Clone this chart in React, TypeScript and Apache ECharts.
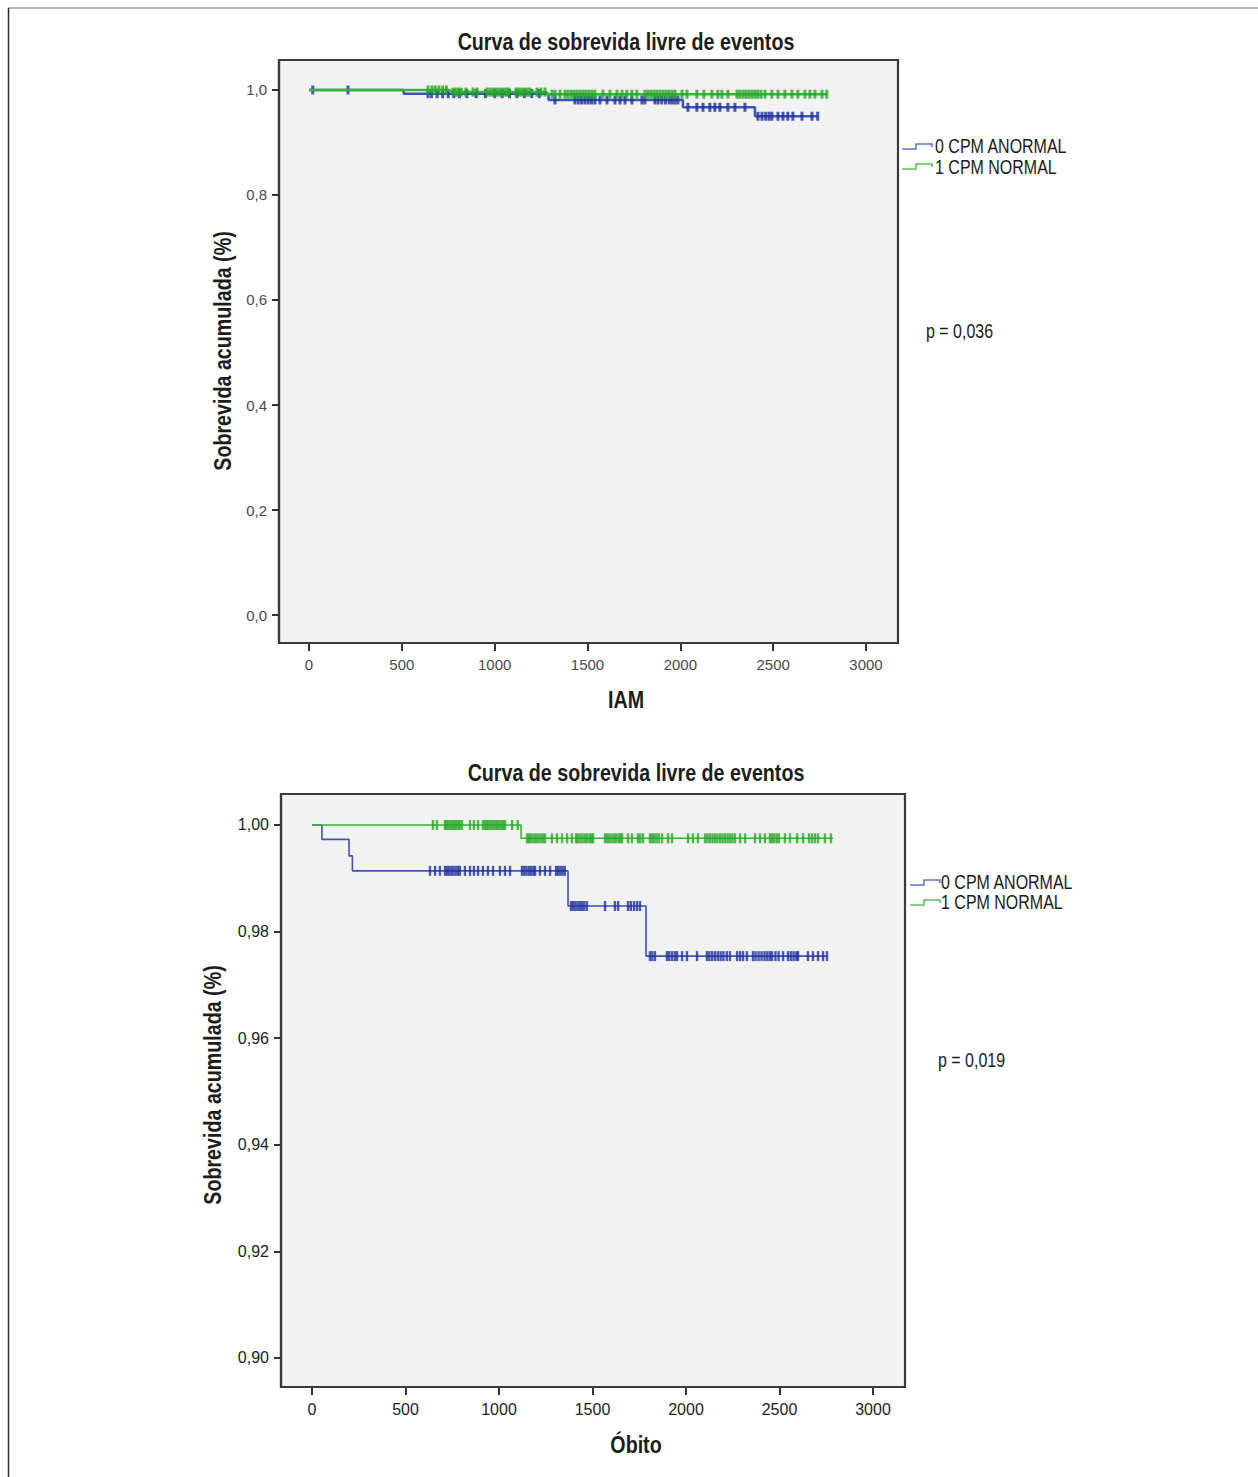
import React, { useEffect, useRef } from "react";
import * as echarts from "echarts";

// ---------------- Data: IAM (top chart) ----------------
const xTickValues = [0, 500, 1000, 1500, 2000, 2500, 3000];
const iamYTicks = [0, 0.2, 0.4, 0.6, 0.8, 1.0];
const obitoYTicks = [0.9, 0.92, 0.94, 0.96, 0.98, 1.0];

const iamAnormalSteps: [number, number][] = [[0, 1], [510, 0.993], [1290, 0.981], [2014, 0.967], [2402, 0.95], [2740, 0.95]];
const iamNormalSteps: [number, number][] = [[0, 1], [760, 0.996], [1280, 0.992], [2790, 0.992]];
const iamAnormalCensored = [20, 210, 641, 660, 690, 720, 750, 780, 810, 850, 900, 950, 1000, 1040, 1080, 1120, 1160, 1200, 1240,
  1325, 1432, 1450, 1468, 1486, 1504, 1522, 1540, 1567, 1605, 1648, 1675, 1702, 1739, 1793, 1809, 1863, 1880, 1900, 1920, 1940, 1955, 1971, 1987,
  2041, 2089, 2122, 2159, 2186, 2213, 2256, 2294, 2348,
  2418, 2440, 2460, 2478, 2493, 2526, 2553, 2579, 2606, 2655, 2709, 2740];
const iamNormalCensored = [641, 662, 680, 700, 720, 740, 775, 790, 805, 820, 845, 883, 905, 959, 975, 990, 1005, 1020, 1035, 1050, 1065, 1077,
  1115, 1130, 1145, 1160, 1175, 1190, 1228, 1249, 1271, 1309, 1325, 1352, 1379, 1395, 1412, 1428, 1444, 1460, 1476, 1492, 1508, 1524, 1540,
  1583, 1621, 1659, 1686, 1712, 1739, 1766, 1809, 1825, 1841, 1857, 1873, 1890, 1906, 1922, 1938, 1955, 1971, 2009, 2036, 2089, 2127, 2170,
  2202, 2224, 2256, 2305, 2320, 2337, 2353, 2369, 2385, 2401, 2417, 2434, 2456, 2493, 2526, 2563, 2601, 2633, 2671, 2698, 2725, 2763, 2789];

// ---------------- Data: Óbito (bottom chart) ----------------
const obitoAnormalSteps: [number, number][] = [[0, 1], [53, 0.9973], [198, 0.9942], [216, 0.9914], [1369, 0.9848], [1786, 0.9754], [2754, 0.9754]];
const obitoNormalSteps: [number, number][] = [[0, 1], [1118, 0.9975], [2786, 0.9975]];
const obitoAnormalCensored = [631, 658, 684, 711, 722, 733, 745, 756, 768, 780, 791, 818, 845, 866, 888, 914, 941, 968, 1005, 1032, 1059,
  1123, 1135, 1147, 1160, 1172, 1184, 1193, 1219, 1246, 1273, 1305, 1316, 1328, 1340, 1352,
  1385, 1396, 1408, 1420, 1432, 1444, 1456, 1470, 1567, 1620, 1637, 1690, 1705, 1722, 1738, 1754,
  1807, 1820, 1834, 1898, 1910, 1925, 1940, 1952, 1979, 2005, 2059, 2112, 2125, 2140, 2155, 2170, 2185, 2200, 2218, 2235, 2273, 2289,
  2305, 2326, 2358, 2372, 2388, 2404, 2420, 2435, 2449, 2460, 2478, 2495, 2519, 2545, 2560, 2575, 2590, 2599, 2652, 2679, 2706, 2733, 2754];
const obitoNormalCensored = [647, 668, 711, 720, 730, 740, 750, 760, 770, 780, 790, 802, 845, 866, 888, 914, 925, 935, 945, 957, 968, 980,
  990, 1000, 1012, 1022, 1032, 1070, 1100, 1150, 1160, 1172, 1185, 1197, 1210, 1222, 1234, 1246, 1283, 1310, 1337, 1364, 1390, 1412, 1422,
  1435, 1447, 1460, 1472, 1485, 1495, 1503, 1567, 1578, 1590, 1602, 1615, 1627, 1640, 1650, 1658, 1690, 1711, 1743, 1755, 1770, 1807, 1818,
  1830, 1842, 1855, 1872, 1904, 1925, 2011, 2037, 2064, 2102, 2115, 2128, 2142, 2155, 2168, 2182, 2195, 2208, 2222, 2235, 2248, 2262, 2289,
  2316, 2369, 2396, 2422, 2449, 2460, 2472, 2485, 2497, 2529, 2556, 2594, 2626, 2658, 2674, 2690, 2706, 2743, 2775];

const chartTitle = "Curva de sobrevida livre de eventos";
const yAxisTitle = "Sobrevida acumulada (%)";
const legendLabels = ["0 CPM ANORMAL", "1 CPM NORMAL"];
const pValues = ["p = 0,036", "p = 0,019"];
const xAxisTitles = ["IAM", "Óbito"];

// ---------------- Helpers ----------------
function levelAt(steps: [number, number][], t: number): number {
  let v = steps[0][1];
  for (const [x, y] of steps) {
    if (x <= t) v = y;
    else break;
  }
  return v;
}

const BLUE_LINE = "#3f52b5";
const BLUE_MARK = "#1d2f9e";
const GREEN_LINE = "#35b535";
const GREEN_MARK = "#26a626";
const FONT = '"Liberation Sans", Arial, sans-serif';
const FRAME = "#3a3a3a";

function narrowText(text: string, x: number, y: number, size: number, weight: string, align: string, rotation = 0) {
  return {
    type: "text",
    x,
    y,
    rotation,
    scaleX: 0.82,
    z: 10,
    style: {
      text,
      font: `${weight} ${size}px ${FONT}`,
      fill: "#1c1c1c",
      align,
      verticalAlign: "middle",
    },
  };
}

function legendIcon(x: number, y: number, color: string) {
  return {
    type: "polyline",
    z: 10,
    shape: { points: [[x, y + 3], [x + 14, y + 3], [x + 14, y - 2], [x + 30, y - 2], [x + 30, y + 1]] },
    style: { stroke: color, lineWidth: 1.6, fill: "none" },
  };
}

export default function App() {
  const ref = useRef<HTMLDivElement>(null);

  useEffect(() => {
    if (!ref.current) return;
    const chart = echarts.init(ref.current, undefined, { renderer: "svg" });

    // The frame extends beyond the tick range (as in SPSS); ticks are placed with customValues.
    const xAxisBase = (gridIndex: number, min: number, max: number, color: string, fontSize: number) => ({
      gridIndex,
      type: "value",
      position: "bottom",
      min,
      max,
      axisLine: { show: true, onZero: false, lineStyle: { color: FRAME, width: 2.2 } },
      axisTick: { show: true, inside: false, length: 8, customValues: xTickValues, lineStyle: { color: "#333", width: 2 } },
      axisLabel: {
        show: true,
        color,
        fontSize,
        fontFamily: FONT,
        margin: 14,
        customValues: xTickValues,
        formatter: (v: number) => String(Math.round(v)),
      },
      splitLine: { show: false },
    });

    const yAxisBase = (gridIndex: number, ticks: number[], min: number, max: number, decimals: number, color: string, fontSize: number) => ({
      gridIndex,
      type: "value",
      position: "left",
      min,
      max,
      axisLine: { show: true, onZero: false, lineStyle: { color: FRAME, width: 2.2 } },
      axisTick: { show: true, inside: false, length: 7, customValues: ticks, lineStyle: { color: "#333", width: 2 } },
      axisLabel: {
        show: true,
        color,
        fontSize,
        fontFamily: FONT,
        margin: 12,
        customValues: ticks,
        formatter: (v: number) => v.toFixed(decimals).replace(".", ","),
      },
      splitLine: { show: false },
    });

    const stepSeries = (name: string, idx: number, steps: [number, number][], color: string, width: number, z: number) => ({
      name,
      type: "line",
      xAxisIndex: idx,
      yAxisIndex: idx,
      step: "end",
      data: steps,
      symbol: "none",
      lineStyle: { color, width },
      z,
      silent: true,
    });

    const censorSeries = (name: string, idx: number, steps: [number, number][], times: number[], color: string, size: number[], z: number) => ({
      name,
      type: "scatter",
      xAxisIndex: idx,
      yAxisIndex: idx,
      data: times.map((t) => [t, levelAt(steps, t)]),
      symbol: "rect",
      symbolSize: size,
      itemStyle: { color },
      z,
      silent: true,
    });

    const option = {
      animation: false,
      backgroundColor: "#ffffff",
      grid: [
        { left: 279, top: 60, width: 619, height: 583, show: true, backgroundColor: "#f2f2f2", borderColor: FRAME, borderWidth: 2.2 },
        { left: 281, top: 794, width: 624, height: 593, show: true, backgroundColor: "#f2f2f2", borderColor: FRAME, borderWidth: 2.2 },
      ],
      xAxis: [
        xAxisBase(0, -161.6, 3172.4, "#4a4a4a", 15),
        xAxisBase(1, -165.8, 3171.1, "#222", 16),
      ],
      yAxis: [
        yAxisBase(0, iamYTicks, -0.05333, 1.05714, 1, "#4a4a4a", 15),
        yAxisBase(1, obitoYTicks, 0.894559, 1.005816, 2, "#222", 16),
      ],
      series: [
        stepSeries("IAM 0 CPM ANORMAL", 0, iamAnormalSteps, BLUE_LINE, 2.5, 3),
        censorSeries("IAM 0 censurado", 0, iamAnormalSteps, iamAnormalCensored, BLUE_MARK, [3, 9], 4),
        stepSeries("IAM 1 CPM NORMAL", 0, iamNormalSteps, GREEN_LINE, 2.5, 5),
        censorSeries("IAM 1 censurado", 0, iamNormalSteps, iamNormalCensored, GREEN_MARK, [3, 9], 6),
        stepSeries("Óbito 0 CPM ANORMAL", 1, obitoAnormalSteps, BLUE_LINE, 1.6, 3),
        censorSeries("Óbito 0 censurado", 1, obitoAnormalSteps, obitoAnormalCensored, BLUE_MARK, [2.4, 10], 4),
        stepSeries("Óbito 1 CPM NORMAL", 1, obitoNormalSteps, GREEN_LINE, 1.6, 5),
        censorSeries("Óbito 1 censurado", 1, obitoNormalSteps, obitoNormalCensored, GREEN_MARK, [2.4, 10], 6),
      ],
      graphic: [
        // page frame
        { type: "line", z: 1, shape: { x1: 8, y1: 8, x2: 1258, y2: 8 }, style: { stroke: "#9a9a9a", lineWidth: 1.5 } },
        { type: "line", z: 1, shape: { x1: 8.5, y1: 8, x2: 8.5, y2: 1477 }, style: { stroke: "#2e2e2e", lineWidth: 1.5 } },
        // titles
        narrowText(chartTitle, 626, 42, 24, "bold", "center"),
        narrowText(chartTitle, 636, 773, 24, "bold", "center"),
        narrowText(xAxisTitles[0], 626, 700, 24, "bold", "center"),
        narrowText(xAxisTitles[1], 636, 1445, 24, "bold", "center"),
        narrowText(yAxisTitle, 223, 351, 24, "bold", "center", Math.PI / 2),
        narrowText(yAxisTitle, 213, 1085, 24, "bold", "center", Math.PI / 2),
        // legends top
        legendIcon(902, 146, "#6674c4"),
        legendIcon(902, 166, "#5cc45c"),
        narrowText(legendLabels[0], 935, 146, 19.5, "normal", "left"),
        narrowText(legendLabels[1], 935, 167, 19.5, "normal", "left"),
        // legends bottom
        legendIcon(910, 882, "#6674c4"),
        legendIcon(910, 902, "#5cc45c"),
        narrowText(legendLabels[0], 941, 882, 19.5, "normal", "left"),
        narrowText(legendLabels[1], 941, 902, 19.5, "normal", "left"),
        // p values
        narrowText(pValues[0], 926, 331, 19.5, "normal", "left"),
        narrowText(pValues[1], 938, 1060, 19.5, "normal", "left"),
      ],
    };

    chart.setOption(option as any);
    return () => chart.dispose();
  }, []);

  return (
    <div
      ref={ref}
      style={{ position: "absolute", left: 0, top: 0, width: 1258, height: 1477, background: "#fff" }}
    />
  );
}
